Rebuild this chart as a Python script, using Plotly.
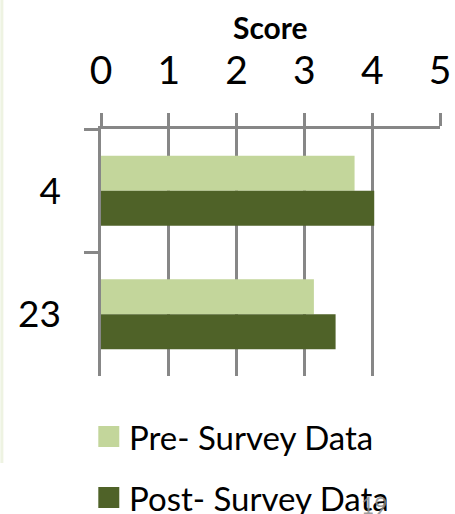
import plotly.graph_objects as go

# Survey items (category labels on the vertical axis, top to bottom)
items = ["4", "23"]

# Mean score per item
pre_scores = [3.74, 3.14]
post_scores = [4.03, 3.46]

series_names = ["Pre- Survey Data", "Post- Survey Data"]
series_colors = ["#C3D69B", "#4F6228"]

x_ticks = [0, 1, 2, 3, 4, 5]

FONT = "Lato, 'Open Sans', sans-serif"
GRID = "#878787"
LW = 2.5

W, H = 455, 514
L, R, T, B = 100.7, 15, 129, 138
plot_h = H - T - B
plot_w = W - L - R


def py(pixel_y):
    """Pixel row -> paper y."""
    return (H - B - pixel_y) / plot_h


def px(pixel_x):
    """Pixel column -> paper x."""
    return (pixel_x - L) / plot_w


fig = go.Figure()
for name, vals, col in zip(series_names, [pre_scores, post_scores], series_colors):
    fig.add_trace(go.Bar(
        y=items, x=vals, name=name, orientation="h",
        marker=dict(color=col, line=dict(width=0)),
        showlegend=False,
    ))

fig.update_layout(
    width=W, height=H,
    margin=dict(l=L, r=R, t=T, b=B, autoexpand=False),
    paper_bgcolor="white", plot_bgcolor="white",
    barmode="group", bargap=0.433, bargroupgap=0,
    font=dict(family=FONT, color="black"),
    xaxis=dict(
        side="top", range=[0, 5], tickvals=x_ticks,
        showgrid=True, gridcolor=GRID, gridwidth=LW,
        showline=True, linecolor=GRID, linewidth=LW,
        ticks="outside", ticklen=13, tickwidth=LW, tickcolor=GRID,
        tickfont=dict(size=39, family=FONT), ticklabelstandoff=14,
        zeroline=False, fixedrange=True, automargin=False,
    ),
    yaxis=dict(
        type="category", categoryarray=items, autorange="reversed",
        showgrid=False, showline=True, linecolor=GRID, linewidth=LW,
        ticks="outside", ticklen=14, tickwidth=LW, tickcolor=GRID,
        tickson="boundaries",
        tickfont=dict(size=37, family=FONT), ticklabelstandoff=30,
        zeroline=False, fixedrange=True, automargin=False,
    ),
    showlegend=False,
)

# Axis title above the top tick labels
fig.add_annotation(
    text="<b>Score</b>", xref="paper", yref="paper",
    x=0.5, y=py(27), xanchor="center", yanchor="middle",
    showarrow=False, font=dict(size=30, family=FONT, color="black"),
)

# Legend below the chart: colour squares with series names
legend_rows = [436.5, 497.5]
for name, col, cy in zip(series_names, series_colors, legend_rows):
    fig.add_shape(
        type="rect", xref="paper", yref="paper",
        x0=px(98), x1=px(119), y0=py(cy + 10.5), y1=py(cy - 10.5),
        fillcolor=col, line=dict(width=0),
    )
    fig.add_annotation(
        text=name, xref="paper", yref="paper",
        x=px(127), y=py(cy), xanchor="left", yanchor="middle",
        showarrow=False, font=dict(size=33, family=FONT, color="black"),
    )

# Slide page number, drawn over the legend text
fig.add_annotation(
    text="19", xref="paper", yref="paper",
    x=px(374), y=py(490), xanchor="center", yanchor="top",
    showarrow=False, borderpad=0,
    font=dict(size=23, family=FONT, color="rgba(140,140,140,0.85)"),
)

# Thin tinted strip along the left edge
fig.add_shape(
    type="rect", xref="paper", yref="paper",
    x0=px(0), x1=px(3), y0=py(463), y1=py(0),
    fillcolor="#EEF3E2", line=dict(width=0), layer="below",
)

fig.write_html("out.html")
